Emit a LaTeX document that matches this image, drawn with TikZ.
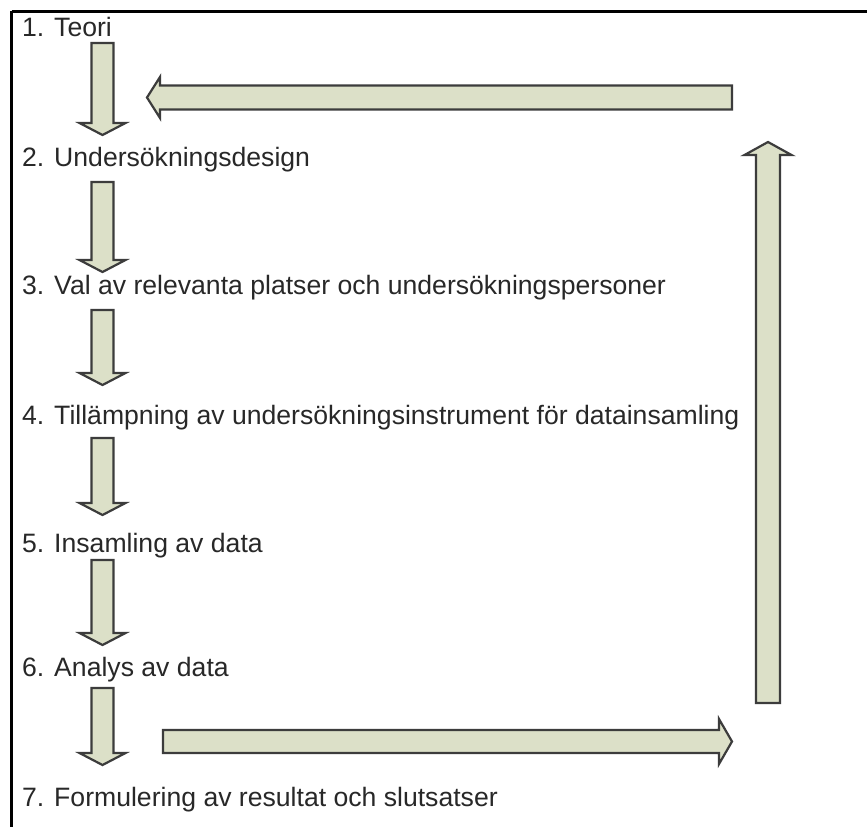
\documentclass[tikz,border=0pt]{standalone}
\usepackage{fontspec}
\setmainfont{Liberation Sans}
\usetikzlibrary{calc}
\definecolor{arrowfill}{RGB}{220,224,200}
\definecolor{arrowline}{RGB}{60,60,60}
\definecolor{txt}{RGB}{40,40,40}
\tikzset{
  blockarrow/.style={fill=arrowfill, draw=arrowline, line width=2.2pt},
  steplabel/.style={anchor=base west, inner sep=0pt, text=txt, font=\fontsize{26.6}{30}\selectfont},
  frameline/.style={line width=3pt, black}
}
\newcommand\barrow[5]{%
  \coordinate (hb) at ($(#2)!#5!(#1)$);
  \draw[blockarrow] ($(#1)!#3!90:(#2)$) -- ($(hb)!#3!90:(#2)$) -- ($(hb)!#4!90:(#2)$) -- (#2)
    -- ($(hb)!#4!-90:(#2)$) -- ($(hb)!#3!-90:(#2)$) -- ($(#1)!#3!-90:(#2)$) -- cycle;}
\begin{document}
\begin{tikzpicture}[x=1pt,y=-1pt]
\useasboundingbox (0,0) rectangle (867,827);
\fill[white] (0,0) rectangle (867,827);
% frame (top and left edges)
\draw[frameline] (11.5,11) -- (867,11);
\draw[frameline] (11.5,11) -- (11.5,827);
% step texts
\node[steplabel] (s1) at (22,36.5) {1. Teori};
\node[steplabel] (s2) at (22,166.5) {2. Undersökningsdesign};
\node[steplabel] (s3) at (22,294.5) {3. Val av relevanta platser och undersökningspersoner};
\node[steplabel] (s4) at (22,424.5) {4. Tillämpning av undersökningsinstrument för datainsamling};
\node[steplabel] (s5) at (22,552) {5. Insamling av data};
\node[steplabel] (s6) at (22,676.5) {6. Analys av data};
\node[steplabel] (s7) at (22,806) {7. Formulering av resultat och slutsatser};
% arrow end points
\coordinate (a1s) at (102.5,43);  \coordinate (a1e) at (102.5,135);
\coordinate (a2s) at (102.5,182); \coordinate (a2e) at (102.5,272);
\coordinate (a3s) at (102.5,310); \coordinate (a3e) at (102.5,385);
\coordinate (a4s) at (102.5,438); \coordinate (a4e) at (102.5,515);
\coordinate (a5s) at (102.5,560); \coordinate (a5e) at (102.5,645);
\coordinate (a6s) at (102.5,688); \coordinate (a6e) at (102.5,765);
\coordinate (rs) at (163,741.5);  \coordinate (re) at (732,741.5);
\coordinate (us) at (768,703);    \coordinate (ue) at (768,142);
\coordinate (ls) at (732,97.5);   \coordinate (le) at (147,97.5);
% down arrows
\barrow{a1s}{a1e}{11pt}{23pt}{12pt}
\barrow{a2s}{a2e}{11pt}{23pt}{12pt}
\barrow{a3s}{a3e}{11pt}{23pt}{12pt}
\barrow{a4s}{a4e}{11pt}{23pt}{12pt}
\barrow{a5s}{a5e}{11pt}{23pt}{12pt}
\barrow{a6s}{a6e}{11pt}{23pt}{12pt}
% feedback loop
\barrow{rs}{re}{11.5pt}{22.5pt}{13pt}
\barrow{us}{ue}{12pt}{23.5pt}{13pt}
\barrow{ls}{le}{12pt}{20.5pt}{13pt}
\end{tikzpicture}
\end{document}
